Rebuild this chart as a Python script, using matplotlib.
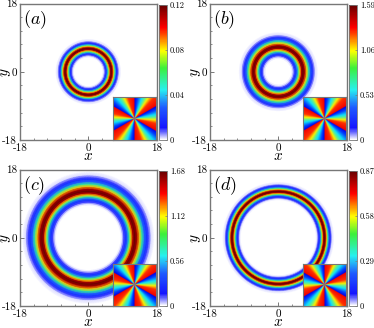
import numpy as np
import matplotlib
matplotlib.use('Agg')
import matplotlib.pyplot as plt
from matplotlib.colors import LinearSegmentedColormap
from matplotlib.cm import ScalarMappable
from matplotlib.colors import Normalize

plt.rcParams['font.family'] = ['cmr10', 'DejaVu Serif']
plt.rcParams['mathtext.fontset'] = 'cm'
plt.rcParams['axes.unicode_minus'] = False

W, H = 374, 328
GRAY = '#777777'

panel_labels = ['a', 'b', 'c', 'd']
vmax_values = [0.12, 1.59, 1.68, 0.87]
cbar_ticks = [
    ['0', '0.04', '0.08', '0.12'],
    ['0', '0.53', '1.06', '1.59'],
    ['0', '0.56', '1.12', '1.68'],
    ['0', '0.29', '0.58', '0.87'],
]
axis_ticks = [-18, 0, 18]
axis_ticklabels = ['-18', '0', '18']

# radial density profiles
radius_a = [3.9, 4.2, 4.5, 4.8, 5.0, 5.3, 5.6, 5.9, 6.2, 6.5, 6.8, 7.1, 7.4, 7.6, 7.9, 8.2, 8.5]
density_a = [0, .002, .008, .017, .030, .053, .084, .110, .12, .110, .084, .053, .030, .017, .008, .002, 0]
radius_b = [3.5, 3.9, 4.25, 4.58, 4.98, 5.39, 5.79, 6.2, 6.6, 7.08, 7.56, 8.04, 8.52, 9.0, 9.4, 9.8, 10.3]
density_b = [0, .03, .11, .23, .40, .71, 1.11, 1.45, 1.59, 1.45, 1.11, .71, .40, .23, .11, .03, 0]
radius_c = [8.6, 9.0, 9.42, 9.9, 10.38, 10.86, 11.34, 11.82, 12.3, 12.93, 13.56, 14.19, 14.82, 15.45, 16.0, 16.6, 17.3]
density_c = [0, .03, .12, .25, .42, .75, 1.18, 1.54, 1.68, 1.54, 1.18, .75, .42, .25, .12, .03, 0]
radius_d = [10.0, 10.35, 10.6, 10.88, 11.16, 11.45, 11.73, 12.02, 12.3, 12.58, 12.87, 13.15, 13.44, 13.72, 14.0, 14.25, 14.6]
density_d = [0, .015, .06, .12, .22, .39, .61, .80, .87, .80, .61, .39, .22, .12, .06, .015, 0]
radii = [radius_a, radius_b, radius_c, radius_d]
densities = [density_a, density_b, density_c, density_d]

# phase insets: winding number and rotation (deg)
windings = [-6, -6, -6, 6]
phase_rot = [30, 30, 30, 30]

# panel boxes in pixels: left, top
lefts = [20, 210, 20, 210]
tops = [3.5, 3.5, 169.5, 169.5]
box = 136.5

cmap = LinearSegmentedColormap.from_list('ring', [
    (0.0, '#ffffff'), (0.09, '#1414ff'), (0.24, '#1e5aff'), (0.37, '#28f0f0'),
    (0.53, '#3cf03c'), (0.66, '#ffff00'), (0.83, '#ff0000'), (1.0, '#640000')])
phase_cmap = LinearSegmentedColormap.from_list('phase', [
    (0.0, '#0000e8'), (0.14, '#0040ff'), (0.32, '#10e0f8'), (0.44, '#60f090'),
    (0.56, '#f8f000'), (0.72, '#ff3000'), (1.0, '#f00000')])


def px_axes(fig, left, top, w, h):
    return fig.add_axes([left/W, 1-(top+h)/H, w/W, h/H])


fig = plt.figure(figsize=(W/100, H/100), dpi=100)
theta = np.linspace(0, 2*np.pi, 241)

for i in range(4):
    ax = px_axes(fig, lefts[i], tops[i], box, box)
    r = np.array(radii[i])
    X = np.outer(r, np.cos(theta))
    Y = np.outer(r, np.sin(theta))
    C = np.tile(np.array(densities[i])[:, None], (1, len(theta)))
    ax.pcolormesh(X, Y, C, shading='gouraud', cmap=cmap, vmin=0, vmax=vmax_values[i], rasterized=True)
    ax.set_xlim(-18, 18)
    ax.set_ylim(-18, 18)
    ax.set_xticks(axis_ticks, axis_ticklabels)
    ax.set_yticks(axis_ticks, axis_ticklabels)
    ax.set_xticks(np.arange(-14.4, 18, 3.6), minor=True)
    ax.set_yticks(np.arange(-14.4, 18, 3.6), minor=True)
    ax.tick_params(which='major', direction='in', length=3, width=0.7, color=GRAY, labelsize=8, pad=2)
    ax.tick_params(axis='x', which='major', pad=2.5)
    ax.tick_params(which='minor', direction='in', length=1.5, width=0.6, color=GRAY)
    for s in ax.spines.values():
        s.set_color(GRAY)
        s.set_linewidth(1.0)
    ax.set_xlabel('$x$', fontsize=11, va='center')
    ax.xaxis.set_label_coords(0.5, -16.5/box)
    ax.set_ylabel('$y$', fontsize=11, va='center')
    ax.yaxis.set_label_coords(-14/box, 0.5)
    ax.text(0.025, 0.965, '$(%s)$' % panel_labels[i], transform=ax.transAxes, fontsize=13, va='top', ha='left')

    # phase inset
    ins = px_axes(fig, lefts[i]+93, tops[i]+94, 43, 42.5)
    gx, gy = np.meshgrid(np.linspace(-1, 1, 172), np.linspace(-1, 1, 172))
    phase = np.mod(windings[i]*(np.arctan2(gy, gx)+np.radians(phase_rot[i])), 2*np.pi)
    ins.imshow(phase, cmap=phase_cmap, origin='lower', extent=[-1, 1, -1, 1], aspect='auto',
               interpolation='antialiased', interpolation_stage='rgba')
    ins.set_xticks([])
    ins.set_yticks([])
    for s in ins.spines.values():
        s.set_color(GRAY)
        s.set_linewidth(0.8)

    # colorbar
    cax = px_axes(fig, lefts[i]+138.5, tops[i]+1, 8.5, box-1)
    vm = vmax_values[i]
    cb = fig.colorbar(ScalarMappable(Normalize(0, vm), cmap), cax=cax)
    cb.set_ticks([0, vm/3, 2*vm/3, vm], labels=cbar_ticks[i])
    cb.ax.tick_params(which='major', direction='in', length=1.5, width=0.5, color=GRAY, labelsize=6, pad=2)
    cb.minorticks_off()
    cb.outline.set_edgecolor(GRAY)
    cb.outline.set_linewidth(0.6)

fig.savefig('out.png', dpi=100)
